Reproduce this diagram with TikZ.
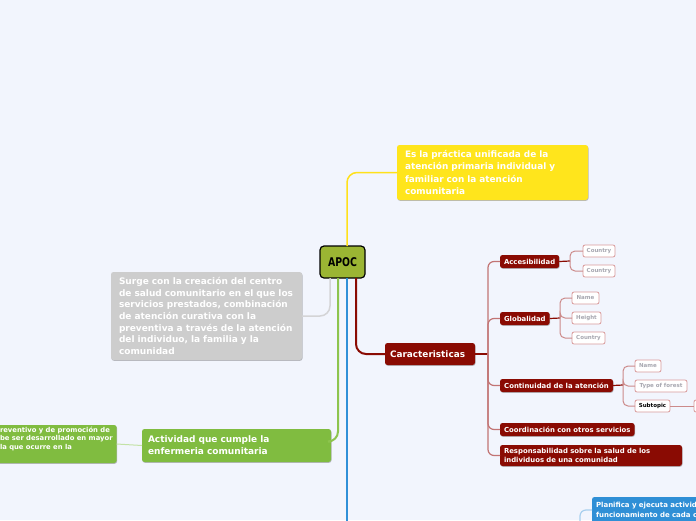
\documentclass[tikz,border=0pt]{standalone}
\usepackage{fontspec}
\setmainfont{DejaVu Sans}
\usetikzlibrary{shadows}
\definecolor{bgcol}{HTML}{F2F5FD}
\definecolor{apocfill}{HTML}{9BB533}
\definecolor{yelfill}{HTML}{FFE51C}
\definecolor{yelline}{HTML}{FFE11A}
\definecolor{greyfill}{HTML}{CDCDCD}
\definecolor{greyline}{HTML}{D4D4D6}
\definecolor{grnfill}{HTML}{80BC40}
\definecolor{grnline}{HTML}{8DC44E}
\definecolor{lgrnline}{HTML}{C3E2A6}
\definecolor{bluefill}{HTML}{2F8FD6}
\definecolor{blueline}{HTML}{3090D8}
\definecolor{lblueline}{HTML}{A8CFEE}
\definecolor{redfill}{HTML}{8A0B03}
\definecolor{redtrunk}{HTML}{C27474}
\definecolor{redthin}{HTML}{CC8A8A}
\definecolor{subborder}{HTML}{D99A9A}
\definecolor{subtext}{HTML}{A7A7B0}
\tikzset{
  every node/.style={inner sep=0pt, outer sep=0pt},
  box/.style={anchor=north west, rounded corners=2.5pt, align=left, inner xsep=5pt,
    drop shadow={shadow xshift=0.5pt, shadow yshift=-0.8pt, opacity=0.25, fill=black}},
  redbox/.style={box, fill=redfill, text=white, inner xsep=4pt,
    font=\fontsize{6.9}{8.6}\selectfont\bfseries},
  leafbox/.style={anchor=north west, rounded corners=2pt, fill=white, draw=subborder,
    line width=0.8pt, text=subtext, inner xsep=3pt, minimum height=12pt, align=left,
    font=\fontsize{5.5}{6.5}\selectfont\bfseries},
  link/.style={rounded corners=10pt, line width=2pt},
  trunk/.style={rounded corners=6pt, line width=1.2pt, draw=redtrunk},
  thin/.style={rounded corners=5pt, line width=1pt, draw=redthin},
}
\begin{document}
\begin{tikzpicture}[x=1pt,y=-1pt]
\fill[bgcol] (0,0) rectangle (696,520);
\useasboundingbox (0,0) rectangle (696,520);
\clip (0,0) rectangle (696,520);

% central
\node[anchor=north west, fill=apocfill, draw=black, line width=1.2pt, rounded corners=4pt,
  minimum width=45pt, minimum height=32pt,
  font=\fontsize{12}{14}\selectfont\bfseries] (apoc) at (320,246) {\scalebox{0.78}[1]{APOC}};

% main topics
\node[box, fill=yelfill, text=white, minimum width=191pt, minimum height=55pt, text width=175pt,
  inner xsep=8pt, font=\fontsize{8.9}{12.3}\selectfont\bfseries] (yel) at (397,145)
  {Es la práctica unificada de la\\atención primaria individual y\\familiar con la atención\\comunitaria};
\node[box, fill=greyfill, text=white, minimum width=191pt, minimum height=88pt, text width=175pt,
  inner xsep=8pt, font=\fontsize{9}{11.7}\selectfont\bfseries] (grey) at (111,272)
  {Surge con la creación del centro\\de salud comunitario en el que los\\servicios prestados, combinación\\de atención curativa con la\\preventiva a través de la atención\\del individuo, la familia y la\\comunidad};
\node[box, fill=grnfill, text=white, minimum width=189pt, minimum height=33pt, text width=177pt,
  inner xsep=6pt, font=\fontsize{9}{12}\selectfont\bfseries] (grn) at (142,429)
  {Actividad que cumple la\\enfermeria comunitaria};
\node[box, fill=grnfill, text=white, minimum width=120pt, minimum height=38pt,
  inner xsep=4pt, font=\fontsize{6.8}{8.5}\selectfont\bfseries] (lgrn) at (-4,425)
  {reventivo y de promoción de\\be ser desarrollado en mayor\\la que ocurre en la\\[3pt]};
\node[box, fill=redfill, text=white, minimum width=90pt, minimum height=22pt, text width=80pt,
  inner xsep=5pt, font=\fontsize{8.9}{10}\selectfont\bfseries] (car) at (385,343) {Caracteristicas};
\node[box, fill=bluefill, text=white, minimum width=130pt, minimum height=26pt, text width=122pt,
  inner xsep=4pt, font=\fontsize{7}{10.5}\selectfont\bfseries] (plan) at (592,497)
  {Planifica y ejecuta activid\\funcionamiento de cada c};

% characteristics
\node[redbox, minimum width=59pt, minimum height=13pt] (acc) at (500,255) {Accesibilidad};
\node[redbox, minimum width=49pt, minimum height=13pt] (glo) at (500,312) {Globalidad};
\node[redbox, minimum width=113pt, minimum height=13pt] (con) at (500,379) {Continuidad de la atención};
\node[redbox, minimum width=134pt, minimum height=13pt] (coo) at (500,423) {Coordinación con otros servicios};
\node[redbox, minimum width=182pt, minimum height=21pt, text width=174pt] (res) at (500,445)
  {Responsabilidad sobre la salud de los\\individuos de una comunidad};

% leaves
\node[leafbox, minimum width=32pt] (c1) at (583,245) {Country};
\node[leafbox, minimum width=32pt] (c2) at (583,265) {Country};
\node[leafbox, minimum width=27pt] (n1) at (572,292) {Name};
\node[leafbox, minimum width=29pt] (h1) at (572,312) {Height};
\node[leafbox, minimum width=33pt] (c3) at (572,332) {Country};
\node[leafbox, minimum width=26pt] (n2) at (635,360) {Name};
\node[leafbox, minimum width=52pt] (t1) at (635,380) {Type of forest};
\node[leafbox, minimum width=35pt, text=black] (sub) at (635,400) {Subtopic};
\node[leafbox, minimum width=20pt] (part) at (694,400) {};

% connectors from center
\draw[link, draw=yelline, line width=1.5pt] ([xshift=4.5pt]apoc.north) |- (yel.west);
\draw[link, draw=greyline, line width=1.5pt] ([xshift=-12.5pt]apoc.south) |- (grey.east);
\draw[link, draw=grnline] ([xshift=-4.5pt]apoc.south) |- ([yshift=4pt]grn.east);
\coordinate (bend) at (347,530);
\draw[link, draw=blueline] ([xshift=4.5pt]apoc.south) -- (bend);
\draw[link, draw=redfill] ([xshift=13.5pt]apoc.south) |- (car.west);
\draw[draw=lgrnline, line width=1pt] (grn.west) -- (lgrn.east);

% blue child
\coordinate (bp) at (580,530);
\draw[rounded corners=6pt, line width=1.2pt, draw=lblueline] (bp) |- (plan.west);

% characteristics connectors
\coordinate (ct) at (488,354);
\draw[draw=redfill, line width=1.5pt] (car.east) -- (ct);
\draw[trunk] (ct) |- (acc.west);
\draw[trunk] (ct) |- (glo.west);
\draw[trunk] (ct) |- (con.west);
\draw[trunk] (ct) |- (coo.west);
\draw[trunk] (ct) |- (res.west);

\coordinate (ca) at (570,261);
\draw[draw=redfill, line width=1.2pt] (acc.east) -- (ca);
\draw[thin] (ca) |- (c1.west);
\draw[thin] (ca) |- (c2.west);

\coordinate (cg) at (560,318);
\draw[draw=redfill, line width=1.2pt] (glo.east) -- (cg);
\draw[thin] (cg) |- (n1.west);
\draw[thin] (cg) |- (h1.west);
\draw[thin] (cg) |- (c3.west);

\coordinate (cc) at (623,385);
\draw[draw=redfill, line width=1.2pt] (con.east) -- (cc);
\draw[thin] (cc) |- (n2.west);
\draw[thin] (cc) |- (t1.west);
\draw[thin] (cc) |- (sub.west);

\draw[draw=redthin, line width=1pt] (sub.east) -- (part.west);
\end{tikzpicture}
\end{document}
